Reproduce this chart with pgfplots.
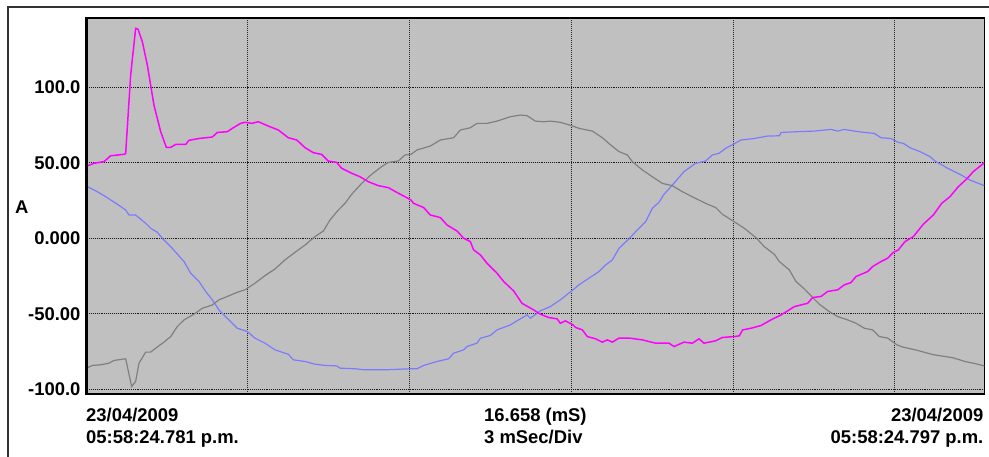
\documentclass[border=0pt]{standalone}
\usepackage{fontspec}
\setmainfont{Liberation Sans}
\usepackage{pgfplots}
\pgfplotsset{compat=1.18}
\definecolor{bg}{HTML}{C0C0C0}
\definecolor{mag}{HTML}{FF00FF}
\definecolor{blu}{HTML}{7B7BFF}
\definecolor{gry}{HTML}{808080}
\newcommand{\lbl}{\fontsize{18.5}{22}\selectfont\bfseries}
\begin{document}
\begin{tikzpicture}
\useasboundingbox (0,0) rectangle (989bp,457bp);
\fill[white] (0,0) rectangle (989bp,457bp);
\draw[line width=1.8bp, black!80] (8.3bp,-5bp) -- (8.3bp,449.7bp) -- (995bp,449.7bp);
\begin{axis}[
  at={(85.4bp,63bp)}, anchor=south west,
  scale only axis, width=899bp, height=376bp,
  xmin=0, xmax=16.658, ymin=-103, ymax=145.7,
  axis background/.style={fill=bg},
  axis line style={line width=1.5bp, black},
  xtick={3,6,9,12,15}, xticklabels={},
  ytick={-100,-50,0,50,100},
  yticklabels={-100.0,-50.00,0.000,50.00,100.0},
  major tick length=0pt,
  grid=major,
  x grid style={black!85, line width=1bp, densely dotted},
  y grid style={black!90, line width=0.9bp, densely dotted},
  yticklabel style={font=\lbl, anchor=east, inner sep=0pt, xshift=-4.7bp},
  clip=true,
]
\addplot[blu, line width=1.2bp] coordinates {
(0,34.8)(0.221,30.8)(0.376,27.5)(0.592,22.5)(0.746,18.7)(0.808,15.4)(0.931,15.4)
(1.117,9.9)(1.209,6.6)(1.333,4.0)(1.425,0)(1.58,-5.5)(1.827,-15.4)(1.95,-23.1)
(2.105,-28.6)(2.228,-35.2)(2.352,-40.7)(2.475,-47.4)(2.63,-52.9)(2.815,-59.5)(3.0,-61.7)
(3.143,-66.1)(3.328,-69.4)(3.513,-73.8)(3.76,-76.7)(3.853,-80.4)(4.072,-81.5)(4.254,-83.3)
(4.439,-84.1)(4.656,-84.4)(4.718,-85.9)(4.995,-86.3)(5.181,-87)(5.551,-87)(6.033,-86.3)
(6.144,-86.3)(6.268,-84.1)(6.515,-81.5)(6.731,-79.7)(6.823,-76)(7.009,-73.8)(7.071,-71.6)
(7.256,-69.4)(7.318,-66.1)(7.503,-64.3)(7.627,-60.6)(7.874,-57.3)(7.997,-54.6)(8.183,-50.7)
(8.245,-52.9)(8.43,-48)(8.615,-45.2)(8.801,-40.7)(9.035,-34.1)(9.146,-30.8)(9.331,-26.4)
(9.517,-22)(9.64,-17.6)(9.764,-14.3)(9.888,-6.6)(10.073,-0.4)(10.196,4.4)(10.381,11)
(10.505,19.8)(10.628,23.8)(10.721,29.1)(10.876,35.2)(11.092,44.1)(11.308,49.6)(11.493,51.1)
(11.617,55.1)(11.741,56.2)(11.864,59.5)(12.037,62.8)(12.147,65)(12.394,66)(12.641,67.6)
(12.858,67.8)(12.889,70)(13.198,70.5)(13.506,70.9)(13.815,72)(13.939,70.9)(14.062,72)
(14.248,70.9)(14.433,70)(14.618,69.4)(14.742,66.5)(14.927,66)(15.063,63.4)(15.155,62.8)
(15.279,59.9)(15.464,57.3)(15.649,54)(15.742,51.1)(15.958,46.7)(16.205,42.3)(16.391,38.5)
(16.658,34.8)
};
\addplot[gry, line width=1.2bp] coordinates {
(0,-86.3)(0.128,-84.1)(0.283,-83.7)(0.437,-82.6)(0.53,-80.8)(0.746,-79.7)(0.857,-98)
(0.931,-94.7)(0.993,-82.6)(1.117,-75.3)(1.209,-75.3)(1.302,-72.7)(1.456,-68.7)(1.58,-65)
(1.703,-58.4)(1.827,-54)(2.012,-50.2)(2.167,-46.3)(2.352,-44.1)(2.475,-40.7)(2.63,-38.5)
(2.815,-35.7)(2.957,-34.1)(3.143,-29.7)(3.328,-24.7)(3.513,-20.3)(3.698,-14.3)(3.884,-9.3)
(4.072,-4.4)(4.254,1.1)(4.409,4.8)(4.532,12.1)(4.687,18.7)(4.81,23.1)(4.934,29.1)
(5.119,36.3)(5.304,42.3)(5.49,47.4)(5.613,50.2)(5.798,51.1)(5.921,55.1)(6.033,55.5)
(6.144,58.4)(6.391,61)(6.577,65)(6.823,66.5)(6.947,71.6)(7.132,73.1)(7.256,76)
(7.441,76)(7.627,77.5)(7.75,78.9)(7.874,80.4)(8.059,81.5)(8.183,81.1)(8.337,77.5)
(8.492,77.1)(8.615,77.5)(8.801,76.7)(9.035,74.2)(9.146,72.7)(9.393,70.9)(9.579,66.5)
(9.733,61.7)(9.888,57.3)(10.042,55.1)(10.134,50.7)(10.32,45.2)(10.505,40.7)(10.69,36.3)
(10.876,34.8)(11.061,30.8)(11.277,26.9)(11.493,23.1)(11.679,20.3)(11.802,15.9)(12.037,10.6)
(12.209,6.6)(12.425,0.4)(12.58,-5.5)(12.765,-10.6)(12.858,-15.4)(13.043,-20.9)(13.167,-28.6)
(13.321,-33.5)(13.476,-39.2)(13.599,-43.6)(13.784,-48.5)(13.939,-51.8)(14.124,-54)(14.279,-56.2)
(14.433,-59.5)(14.588,-60.6)(14.711,-65)(14.865,-66)(15.038,-70.5)(15.15,-72)(15.4,-74)
(15.71,-77)(16.07,-79)(16.3,-81.5)(16.5,-83)(16.658,-84.5)
};
\addplot[mag, line width=1.5bp] coordinates {
(0,47.4)(0.159,49.6)(0.345,50.7)(0.468,54.6)(0.715,55.5)(0.746,56)(0.839,108)
(0.931,138.8)(0.975,138.3)(1.055,130)(1.148,114.5)(1.271,88)(1.395,70.5)(1.5,60.1)
(1.58,60.1)(1.673,62.1)(1.858,62.1)(1.92,64.8)(2.105,66)(2.352,67)(2.445,70)
(2.63,70.5)(2.722,72.7)(2.877,76)(2.957,76.7)(3.081,76)(3.204,77.1)(3.39,74.2)
(3.575,71.6)(3.76,66.5)(3.915,65)(4.072,59.9)(4.223,56.6)(4.377,55.5)(4.501,51.1)
(4.656,50.2)(4.748,46.3)(4.934,43)(5.088,40.7)(5.243,37.4)(5.428,34.8)(5.613,33.5)
(5.767,30.4)(5.921,27.5)(6.033,25.3)(6.082,23.1)(6.268,20.3)(6.391,15.4)(6.577,13.7)
(6.7,8.8)(6.886,4.8)(7.009,0)(7.132,-2.2)(7.194,-7.7)(7.318,-11)(7.441,-16.5)
(7.627,-23.1)(7.75,-28.6)(7.935,-34.8)(8.09,-43)(8.306,-47.4)(8.43,-50.2)(8.585,-52.4)
(8.739,-53.3)(8.801,-56.2)(8.893,-54.6)(9.035,-57.3)(9.084,-59)(9.208,-60.6)(9.3,-65)
(9.455,-66.5)(9.579,-68.7)(9.671,-67.2)(9.764,-68.7)(9.888,-66)(10.073,-66)(10.32,-67.2)
(10.567,-69.4)(10.814,-69.4)(10.907,-71.6)(11.092,-68.7)(11.246,-69.4)(11.369,-66.5)(11.462,-69.4)
(11.679,-67.8)(11.802,-65.6)(12.037,-65)(12.117,-64.5)(12.178,-60.6)(12.333,-59.5)(12.518,-57.7)
(12.703,-54)(12.889,-50.7)(13.012,-48)(13.136,-45.2)(13.383,-43)(13.476,-39.2)(13.63,-38.5)
(13.753,-35.2)(13.939,-34.1)(14.062,-30.8)(14.186,-29.3)(14.279,-25.3)(14.495,-22)(14.588,-18.7)
(14.742,-15.4)(14.865,-13.2)(14.97,-9.3)(15.063,-7.7)(15.186,-2.2)(15.341,1.1)(15.526,9.3)
(15.711,15.4)(15.866,23.1)(16.02,27.5)(16.174,34.1)(16.329,39.2)(16.452,44.1)(16.658,50)
};
\end{axis}
\draw[line width=3bp, black] (86.2bp,62.3bp) -- (86.2bp,439.7bp);
\node[font=\lbl, inner sep=0pt] at (21.7bp,250.3bp) {A};
\node[font=\lbl, anchor=base west, inner sep=0pt] at (86bp,35.5bp) {23/04/2009};
\node[font=\lbl, anchor=base west, inner sep=0pt] at (86bp,13.2bp) {05:58:24.781 p.m.};
\node[font=\lbl, anchor=base west, inner sep=0pt] at (484bp,35.5bp) {16.658 (mS)};
\node[font=\lbl, anchor=base west, inner sep=0pt] at (484bp,13.2bp) {3 mSec/Div};
\node[font=\lbl, anchor=base east, inner sep=0pt] at (983.5bp,35.5bp) {23/04/2009};
\node[font=\lbl, anchor=base east, inner sep=0pt] at (983.5bp,13.2bp) {05:58:24.797 p.m.};
\end{tikzpicture}
\end{document}
